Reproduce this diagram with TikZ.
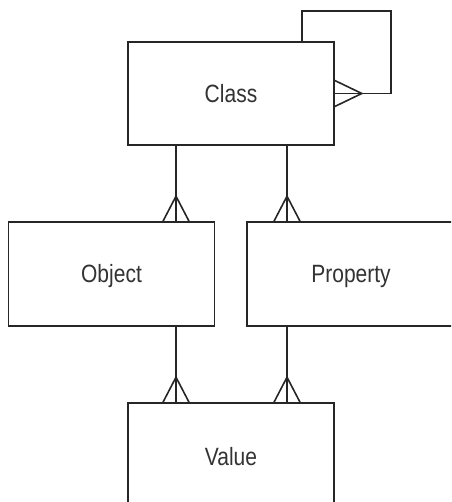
\documentclass[tikz,border=0pt]{standalone}
\usepackage{fontspec}
\setmainfont{Liberation Sans}[FakeStretch=0.84]
\usetikzlibrary{calc}
\newcommand\crowfoot[2]{%
  \draw[link] ($(#1)!13pt!90:(#2)$) -- (#2) -- ($(#1)!13pt!-90:(#2)$);}
\begin{document}
\begin{tikzpicture}[x=1pt,y=-1pt,
  entity/.style={draw=black!85, line width=1.6pt, rectangle, minimum width=206pt,
    minimum height=104pt, inner sep=0pt, font=\fontsize{25}{29}\selectfont,
    text=black!80, text height=17.9pt, text depth=0pt},
  link/.style={draw=black!85, line width=1.6pt}]
\useasboundingbox (0,0) rectangle (451,502);
\clip (0,0) rectangle (451,502);
\node[entity, minimum height=103pt] (class) at (231,93.5) {Class};
\node[entity] (object) at (111.5,274) {Object};
\node[entity, minimum width=208pt] (property) at (351,274) {Property};
\node[entity, minimum height=108pt] (value) at (231,457) {Value};
\coordinate (xl) at (176,0);
\coordinate (xr) at (287,0);
\coordinate (lt) at (302,11);
\coordinate (lr) at (391,11);
% Class -> Object
\draw[link] (class.south -| xl) -- (object.north -| xl);
\coordinate (a1) at ($(object.north -| xl)+(0,-25)$);
\crowfoot{object.north -| xl}{a1}
% Class -> Property
\draw[link] (class.south -| xr) -- (property.north -| xr);
\coordinate (a2) at ($(property.north -| xr)+(0,-25)$);
\crowfoot{property.north -| xr}{a2}
% Object -> Value
\draw[link] (object.south -| xl) -- (value.north -| xl);
\coordinate (a3) at ($(value.north -| xl)+(0,-25)$);
\crowfoot{value.north -| xl}{a3}
% Property -> Value
\draw[link] (property.south -| xr) -- (value.north -| xr);
\coordinate (a4) at ($(value.north -| xr)+(0,-25)$);
\crowfoot{value.north -| xr}{a4}
% Self loop
\draw[link] (class.north -| lt) -- (lt) -- (lr) -- (lr |- class.east) -- (class.east);
\coordinate (a5) at ($(class.east)+(27,0)$);
\crowfoot{class.east}{a5}
\end{tikzpicture}
\end{document}
